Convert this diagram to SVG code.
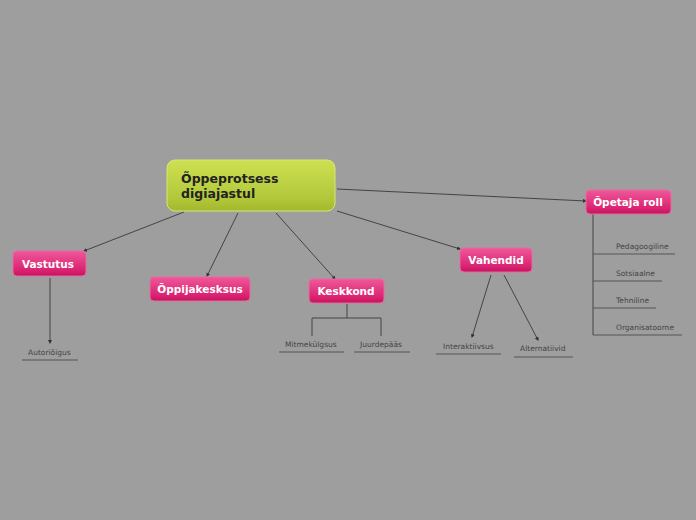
<svg xmlns="http://www.w3.org/2000/svg" width="696" height="520" viewBox="0 0 696 520">
<defs>
<linearGradient id="gg" x1="0" y1="0" x2="0" y2="1"><stop offset="0" stop-color="#cde052"/><stop offset="0.75" stop-color="#b2c83a"/><stop offset="1" stop-color="#a3b82a"/></linearGradient>
<linearGradient id="pg" x1="0" y1="0" x2="0" y2="1"><stop offset="0" stop-color="#f0589a"/><stop offset="0.8" stop-color="#d8216f"/><stop offset="1" stop-color="#c0145c"/></linearGradient>
<marker id="a" markerWidth="4" markerHeight="4" refX="3" refY="2" orient="auto"><path d="M0,0L4,2L0,4z" fill="#333"/></marker>
</defs>
<style>
.p{fill:url(#pg);stroke:#e86aa0;stroke-width:1}
.pt{font-family:"DejaVu Sans",sans-serif;font-weight:bold;font-size:10.5px;fill:#fff;text-anchor:middle}
.s{font-family:"DejaVu Sans",sans-serif;font-size:7.5px;fill:#444}
.c line,.c path{stroke:#444;stroke-width:1;fill:none}
.u{stroke:#555;stroke-width:1}
</style>
<rect width="696" height="520" fill="#9e9e9e"/>
<g class="c">
<line x1="184" y1="212" x2="84" y2="251" marker-end="url(#a)"/>
<line x1="238" y1="213" x2="207" y2="276" marker-end="url(#a)"/>
<line x1="276" y1="213" x2="335" y2="279" marker-end="url(#a)"/>
<line x1="337" y1="211" x2="460" y2="249" marker-end="url(#a)"/>
<line x1="337" y1="189" x2="586" y2="201" marker-end="url(#a)"/>
<line x1="50" y1="278" x2="50" y2="343" marker-end="url(#a)"/>
<path d="M347,304V318M312,336V318H381V336"/>
<line x1="491" y1="275" x2="472" y2="337" marker-end="url(#a)"/>
<line x1="504" y1="275" x2="538" y2="340" marker-end="url(#a)"/>
<path d="M593,214V335"/>
</g>
<g id="root"><rect x="167" y="160" width="168" height="51" rx="8" fill="url(#gg)" stroke="#d6e870"/>
<text font-family="DejaVu Sans,sans-serif" font-weight="bold" font-size="12.5" fill="#222"><tspan x="181" y="183">Õppeprotsess</tspan><tspan x="181" y="198">digiajastul</tspan></text></g>
<g id="vastutus"><rect class="p" x="13" y="251" width="73" height="25" rx="4"/><text class="pt" x="48" y="268">Vastutus</text></g>
<g id="oppija"><rect class="p" x="150" y="277" width="100" height="24" rx="4"/><text class="pt" x="200" y="293">Õppijakesksus</text></g>
<g id="keskkond"><rect class="p" x="309" y="279" width="75" height="24" rx="4"/><text class="pt" x="346" y="295">Keskkond</text></g>
<g id="vahendid"><rect class="p" x="460" y="248" width="72" height="24" rx="4"/><text class="pt" x="496" y="264">Vahendid</text></g>
<g id="opetaja"><rect class="p" x="586" y="190" width="85" height="24" rx="4"/><text class="pt" x="628" y="206">Õpetaja roll</text></g>
<g id="autor"><text class="s" x="28" y="355">Autoriõigus</text><line class="u" x1="22" y1="360" x2="78" y2="360"/></g>
<g id="mitme"><text class="s" x="285" y="347">Mitmekülgsus</text><line class="u" x1="279" y1="352" x2="344" y2="352"/></g>
<g id="juurde"><text class="s" x="360" y="347" fill="#222">Juurdepääs</text><line class="u" x1="354" y1="352" x2="410" y2="352"/></g>
<g id="inter"><text class="s" x="443" y="349">Interaktiivsus</text><line class="u" x1="436" y1="354" x2="501" y2="354"/></g>
<g id="alt"><text class="s" x="520" y="351">Alternatiivid</text><line class="u" x1="514" y1="357" x2="573" y2="357"/></g>
<g id="ped"><text class="s" x="616" y="249">Pedagoogiline</text><line class="u" x1="593" y1="254" x2="675" y2="254"/></g>
<g id="sots"><text class="s" x="616" y="276">Sotsiaalne</text><line class="u" x1="593" y1="281" x2="662" y2="281"/></g>
<g id="tehn"><text class="s" x="616" y="303">Tehniline</text><line class="u" x1="593" y1="308" x2="656" y2="308"/></g>
<g id="org"><text class="s" x="616" y="330">Organisatoorne</text><line class="u" x1="593" y1="335" x2="682" y2="335"/></g>
</svg>
